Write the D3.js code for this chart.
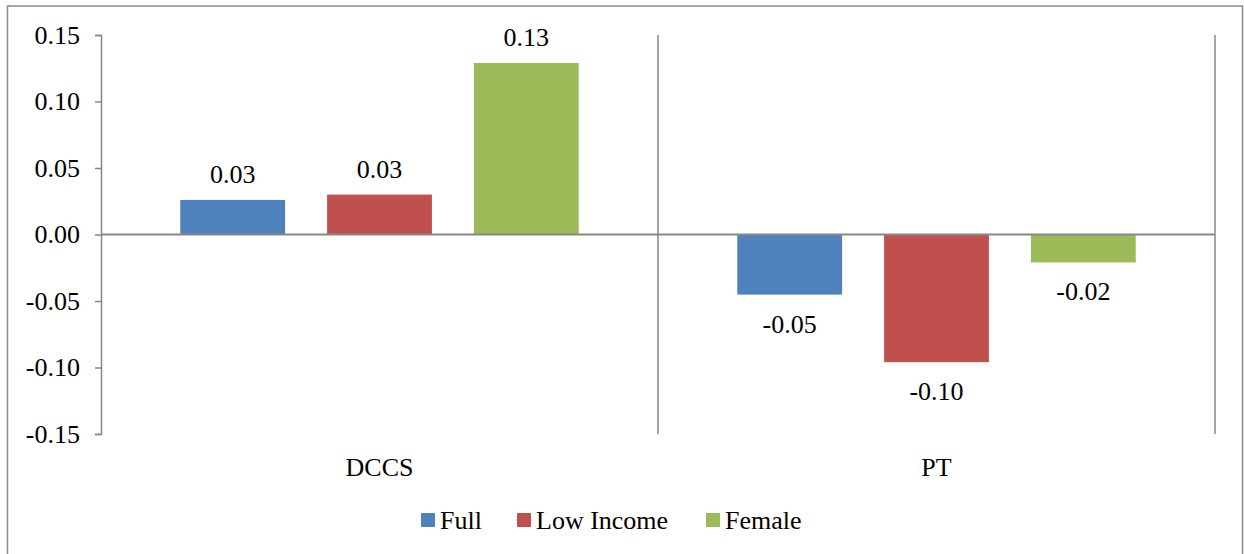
<!DOCTYPE html>
<html>
<head>
<meta charset="utf-8">
<script src="https://cdn.jsdelivr.net/npm/d3@7"></script>
<style>
  html, body { margin: 0; padding: 0; background: #fff; }
  svg { display: block; }
</style>
</head>
<body>
<svg id="chart" width="1244" height="554"></svg>
<script>
// Chart data
const categories = ["DCCS", "PT"];
const seriesNames = ["Full", "Low Income", "Female"];
const seriesColors = ["#4F81BD", "#C0504D", "#9BBB59"];
const fullValues = [0.026, -0.0452];
const lowIncomeValues = [0.030, -0.096];
const femaleValues = [0.129, -0.021];
const yTicks = [0.15, 0.10, 0.05, 0.00, -0.05, -0.10, -0.15];

const seriesValues = [fullValues, lowIncomeValues, femaleValues];

const svg = d3.select("#chart");
const W = 1244, H = 554;
const plot = { left: 101, right: 1215, top: 35, bottom: 434 };
const gridColor = "#878787";
const fontSize = 26;
const fontFamily = "'Liberation Serif', 'Times New Roman', serif";

// Hyphen-minus for negative numbers
const fmt = d3.formatLocale({ decimal: ".", thousands: ",", grouping: [3], currency: ["", ""], minus: "-" }).format(".2f");

function styleText(sel) {
  return sel.attr("font-family", fontFamily)
    .style("font-family", fontFamily)
    .attr("font-size", fontSize)
    .style("font-size", fontSize + "px")
    .attr("fill", "#000");
}

// Chart area border
svg.append("rect")
  .attr("x", 7.5).attr("y", 6)
  .attr("width", 1235).attr("height", H + 10)
  .attr("fill", "#fff")
  .attr("stroke", "#8a8a8a").attr("stroke-width", 1.5);

const x0 = d3.scaleBand().domain(categories).range([plot.left, plot.right]).padding(0);
const x1 = d3.scaleBand().domain(seriesNames).range([0, x0.bandwidth()])
  .paddingInner(0.286).paddingOuter(0.54);
const y = d3.scaleLinear().domain([-0.15, 0.15]).range([plot.bottom, plot.top]);

// Vertical gridlines at category boundaries
const bounds = categories.map(c => x0(c)).concat([plot.right]);
svg.append("g").selectAll("line").data(bounds.slice(1)).join("line")
  .attr("x1", d => d).attr("x2", d => d)
  .attr("y1", plot.top).attr("y2", plot.bottom)
  .attr("stroke", gridColor).attr("stroke-width", 1.5);

// Bars
const rows = [];
categories.forEach((c, ci) => {
  seriesNames.forEach((s, si) => {
    rows.push({ cat: c, series: s, value: seriesValues[si][ci], color: seriesColors[si] });
  });
});

const barG = svg.append("g");
barG.selectAll("rect").data(rows).join("rect")
  .attr("x", d => x0(d.cat) + x1(d.series))
  .attr("width", x1.bandwidth())
  .attr("y", d => y(Math.max(0, d.value)))
  .attr("height", d => Math.abs(y(d.value) - y(0)))
  .attr("fill", d => d.color);

// Value labels
barG.selectAll("text").data(rows).join("text")
  .attr("x", d => x0(d.cat) + x1(d.series) + x1.bandwidth() / 2)
  .attr("y", d => d.value >= 0 ? y(d.value) - 17 : y(d.value) + 38)
  .attr("text-anchor", "middle")
  .call(styleText)
  .text(d => fmt(d.value));

// Zero line
svg.append("line")
  .attr("x1", plot.left).attr("x2", plot.right)
  .attr("y1", y(0)).attr("y2", y(0))
  .attr("stroke", gridColor).attr("stroke-width", 2);

// Y axis
const yAxis = svg.append("g")
  .attr("transform", `translate(${plot.left},0)`)
  .call(d3.axisLeft(y).tickValues(yTicks).tickSize(6).tickPadding(15).tickFormat(fmt));
yAxis.attr("font-family", fontFamily);
yAxis.select(".domain").attr("stroke", gridColor).attr("stroke-width", 1.5);
yAxis.selectAll(".tick line").attr("stroke", gridColor).attr("stroke-width", 1.5);
yAxis.selectAll(".tick text").call(styleText);

// Category labels
svg.append("g").selectAll("text").data(categories).join("text")
  .attr("x", d => x0(d) + x0.bandwidth() / 2)
  .attr("y", 476)
  .attr("text-anchor", "middle")
  .call(styleText)
  .text(d => d);

// Legend
const legendX = [421, 517, 706];
const legend = svg.append("g").selectAll("g").data(seriesNames).join("g")
  .attr("transform", (d, i) => `translate(${legendX[i]},513)`);
legend.append("rect")
  .attr("width", 14).attr("height", 14)
  .attr("fill", (d, i) => seriesColors[i]);
legend.append("text")
  .attr("x", 19).attr("y", 16)
  .call(styleText)
  .text(d => d);
</script>
</body>
</html>
